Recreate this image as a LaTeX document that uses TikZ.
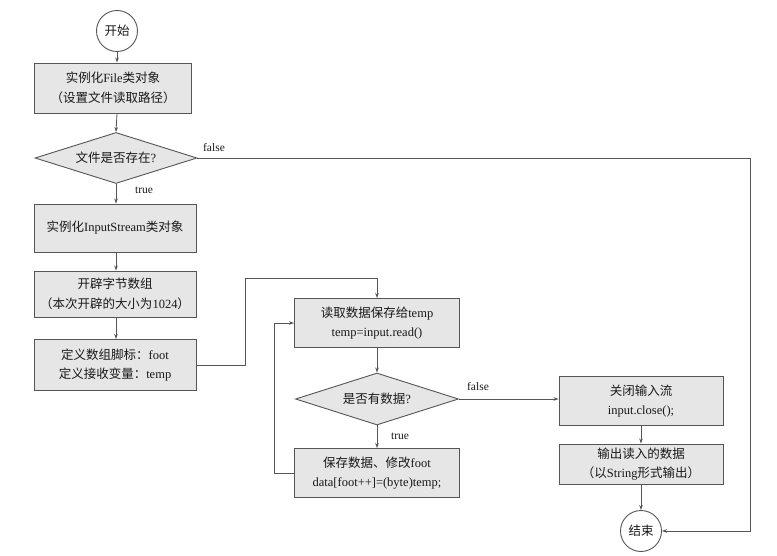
\documentclass[tikz,border=0pt]{standalone}
\usepackage{fontspec}
\setmainfont{Liberation Serif}
\newfontfamily\cjk{Noto Sans CJK SC}
\usetikzlibrary{arrows.meta,shapes.geometric}
\newcommand\zh[1]{{\cjk #1}}
\definecolor{lc}{HTML}{555555}
\definecolor{bg}{HTML}{E6E6E6}
\begin{document}
\begin{tikzpicture}[x=1pt,y=-1pt,
  every node/.style={font=\fontsize{12.5}{19.5}\selectfont, text=black!90},
  box/.style={draw=lc, line width=0.9pt, fill=bg, inner sep=0pt, align=center},
  dia/.style={draw=lc, line width=0.9pt, fill=bg, shape=diamond, aspect=3, inner sep=0pt},
  term/.style={draw=lc, line width=0.9pt, fill=white, circle, inner sep=0pt, minimum size=41pt},
  lbl/.style={font=\fontsize{11.5}{13}\selectfont, inner sep=0pt},
  arr/.style={draw=lc, line width=0.8pt, -{Stealth[length=5pt,width=3.5pt]}}]
\useasboundingbox (0,0) rectangle (777,556);

\node[term] (start) at (117,31) {\zh{开始}};
\node[box, minimum width=157pt, minimum height=50pt] (b1) at (113,88)
  {\zh{实例化}File\zh{类对象}\\\zh{（设置文件读取路径）}};
\node[dia, minimum width=162pt, minimum height=51pt] (d1) at (116,158) {\zh{文件是否存在}?};
\node[box, minimum width=162pt, minimum height=48pt] (b2) at (115,228)
  {\zh{实例化}InputStream\zh{类对象}};
\node[box, minimum width=162pt, minimum height=46pt] (b3) at (115,294)
  {\zh{开辟字节数组}\\\zh{（本次开辟的大小为}1024\zh{）}};
\node[box, minimum width=162pt, minimum height=51pt] (b4) at (115,365)
  {\zh{定义数组脚标：}foot\\\zh{定义接收变量：}temp};

\node[box, minimum width=165pt, minimum height=49pt] (b5) at (377,323)
  {\zh{读取数据保存给}temp\\temp=input.read()};
\node[dia, minimum width=163pt, minimum height=52pt] (d2) at (377,399) {\zh{是否有数据}?};
\node[box, minimum width=165pt, minimum height=49pt] (b6) at (377,473)
  {\zh{保存数据、修改}foot\\data[foot++]=(byte)temp;};

\node[box, minimum width=164pt, minimum height=49pt] (b7) at (641,401)
  {\zh{关闭输入流}\\input.close();};
\node[box, minimum width=164pt, minimum height=40pt] (b8) at (641,464)
  {\zh{输出读入的数据}\\\zh{（以}String\zh{形式输出）}};
\node[term] (end) at (641,531) {\zh{结束}};

\node[lbl] (f1) at (214,148) {false};
\node[lbl] (t1) at (144,190) {true};
\node[lbl] (f2) at (478,387) {false};
\node[lbl] (t2) at (400,436) {true};

\coordinate (c1) at (750,158);
\coordinate (c2) at (245,278);
\coordinate (c3) at (274,473);

\draw[arr] (start) -- (b1.north -| start);
\draw[arr] (b1.south -| start) -- (d1.north);
\draw[arr] (d1.south) -- (b2.north -| d1.south);
\draw[arr] (b2.south -| d1.south) -- (b3.north -| d1.south);
\draw[arr] (b3.south -| d1.south) -- (b4.north -| d1.south);
\draw[arr] (b4.east) -| (c2) -| (b5.north);
\draw[arr] (b5.south) -- (d2.north);
\draw[arr] (d2.south) -- (b6.north);
\draw[arr] (b6.west) -- (c3) |- (b5.west);
\draw[arr] (d2.east) -- (d2.east -| b7.west);
\draw[arr] (b7.south) -- (b8.north);
\draw[arr] (b8.south) -- (end.north);
\draw[arr] (d1.east) -- (c1) |- (end.east);
\end{tikzpicture}
\end{document}
